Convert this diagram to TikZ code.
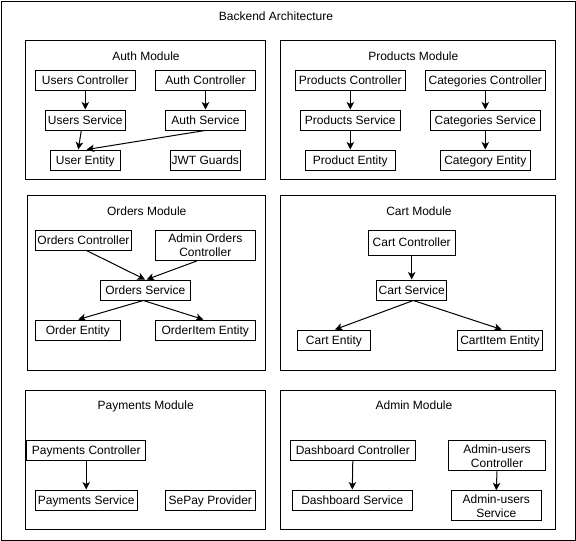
\documentclass[tikz,border=0pt]{standalone}
\usepackage{fontspec}
\setmainfont{Liberation Sans}
\usetikzlibrary{arrows.meta}
\tikzset{
  comp/.style={draw, line width=1pt, rectangle, inner sep=0pt, align=center, font=\fontsize{12}{14}\selectfont},
  one/.style={text height=10.86pt, text depth=2.54pt},
  modbox/.style={draw, line width=1pt, rectangle, inner sep=0pt},
  modtitle/.style={inner sep=0pt, font=\fontsize{12}{14}\selectfont, text height=10.86pt, text depth=2.54pt},
  arr/.style={draw, line width=1pt, -{Stealth[length=7.5pt,width=7.5pt,inset=2pt]}},
}
\begin{document}
\begin{tikzpicture}[x=1pt,y=-1pt]
\useasboundingbox (0,0) rectangle (576,541);
\node[modbox, minimum width=574, minimum height=539] (outer) at (288,270.5) {};
\node[modtitle] (title) at (276,16) {Backend Architecture};

% modules
\node[modbox, minimum width=240, minimum height=139.3] (authm) at (145.7,110.3) {};
\node[modbox, minimum width=274.6, minimum height=139.3] (prodm) at (418,110.3) {};
\node[modbox, minimum width=238, minimum height=175.3] (ordm) at (146.7,282.7) {};
\node[modbox, minimum width=274.6, minimum height=175.3] (cartm) at (418,282.7) {};
\node[modbox, minimum width=240, minimum height=139.3] (paym) at (145.7,460.3) {};
\node[modbox, minimum width=274.6, minimum height=139.3] (admm) at (418,460.3) {};

\node[modtitle] (autht) at (146,56) {Auth Module};
\node[modtitle] (prodt) at (413.3,56) {Products Module};
\node[modtitle] (ordt) at (146.7,211) {Orders Module};
\node[modtitle] (cartt) at (419,211) {Cart Module};
\node[modtitle] (payt) at (145.7,405.7) {Payments Module};
\node[modtitle] (admt) at (414,405.7) {Admin Module};

% auth
\node[comp, one, minimum width=100, minimum height=20] (uc) at (85.3,80) {Users Controller};
\node[comp, one, minimum width=100, minimum height=20] (ac) at (205.5,80) {Auth Controller};
\node[comp, one, minimum width=80, minimum height=20] (us) at (85.3,120) {Users Service};
\node[comp, one, minimum width=80, minimum height=20] (as) at (205.5,120) {Auth Service};
\node[comp, one, minimum width=70, minimum height=20] (ue) at (85.3,160) {User Entity};
\node[comp, one, minimum width=70, minimum height=20] (jwt) at (205.3,160) {JWT Guards};

% products
\node[comp, one, minimum width=110, minimum height=20] (pc) at (350.3,80) {Products Controller};
\node[comp, one, minimum width=120, minimum height=20] (cc) at (485.3,80) {Categories Controller};
\node[comp, one, minimum width=100, minimum height=20] (ps) at (350.3,120) {Products Service};
\node[comp, one, minimum width=110, minimum height=20] (cs) at (485.3,120) {Categories Service};
\node[comp, one, minimum width=90, minimum height=20] (pe) at (350.3,160) {Product Entity};
\node[comp, one, minimum width=90, minimum height=20] (ce) at (485.3,160) {Category Entity};

% orders
\node[comp, one, minimum width=96, minimum height=20] (oc) at (83.5,240) {Orders Controller};
\node[comp, minimum width=100, minimum height=30] (aoc) at (205.3,245.5) {Admin Orders\\Controller};
\node[comp, one, minimum width=90, minimum height=20] (os) at (145.3,290) {Orders Service};
\node[comp, one, minimum width=85, minimum height=20] (oe) at (77.8,330) {Order Entity};
\node[comp, one, minimum width=100, minimum height=20] (oie) at (205.3,330) {OrderItem Entity};

% cart
\node[comp, one, minimum width=87, minimum height=25] (cartc) at (411.7,242.5) {Cart Controller};
\node[comp, one, minimum width=70, minimum height=20] (carts) at (411.7,290) {Cart Service};
\node[comp, one, minimum width=73, minimum height=20] (carte) at (334,340) {Cart Entity};
\node[comp, one, minimum width=85, minimum height=20] (cartie) at (500,340) {CartItem Entity};

% payments
\node[comp, one, minimum width=119, minimum height=20] (payc) at (86.2,450) {Payments Controller};
\node[comp, one, minimum width=102, minimum height=20] (pays) at (86.2,500) {Payments Service};
\node[comp, one, minimum width=90, minimum height=20] (sepay) at (210.3,500) {SePay Provider};

% admin
\node[comp, one, minimum width=125, minimum height=20] (dc) at (352.8,450) {Dashboard Controller};
\node[comp, one, minimum width=120, minimum height=20] (ds) at (352.3,500) {Dashboard Service};
\node[comp, minimum width=97, minimum height=30] (auc) at (497,455.8) {Admin-users\\Controller};
\node[comp, minimum width=90, minimum height=30] (aus) at (496.3,505.8) {Admin-users\\Service};

% arrows
\draw[arr] (uc.south) -- (us.north);
\draw[arr] (ac.south) -- (as.north);
\draw[arr] ([xshift=-4pt]us.south) -- ([xshift=-7pt]ue.north);
\draw[arr] ([xshift=-0.5pt]as.south) -- ([xshift=1.4pt]ue.north);

\draw[arr] (pc.south) -- (ps.north);
\draw[arr] (ps.south) -- (pe.north);
\draw[arr] (cc.south) -- (cs.north);
\draw[arr] (cs.south) -- (ce.north);

\draw[arr] ([xshift=3pt]oc.south) -- ([xshift=-0.3pt]os.north);
\draw[arr] ([xshift=-8.6pt]aoc.south) -- ([xshift=1.4pt]os.north);
\draw[arr] ([xshift=-2pt]os.south) -- ([xshift=0.5pt]oe.north);
\draw[arr] ([xshift=-2pt]os.south) -- ([xshift=-2pt]oie.north);

\draw[arr] (cartc.south) -- (carts.north);
\draw[arr] ([xshift=1.6pt]carts.south) -- ([xshift=1pt]carte.north);
\draw[arr] ([xshift=1.6pt]carts.south) -- ([xshift=1.7pt]cartie.north);

\draw[arr] (payc.south) -- (pays.north);
\draw[arr] (dc.south) -- (ds.north);
\draw[arr] (auc.south) -- (aus.north);
\end{tikzpicture}
\end{document}
